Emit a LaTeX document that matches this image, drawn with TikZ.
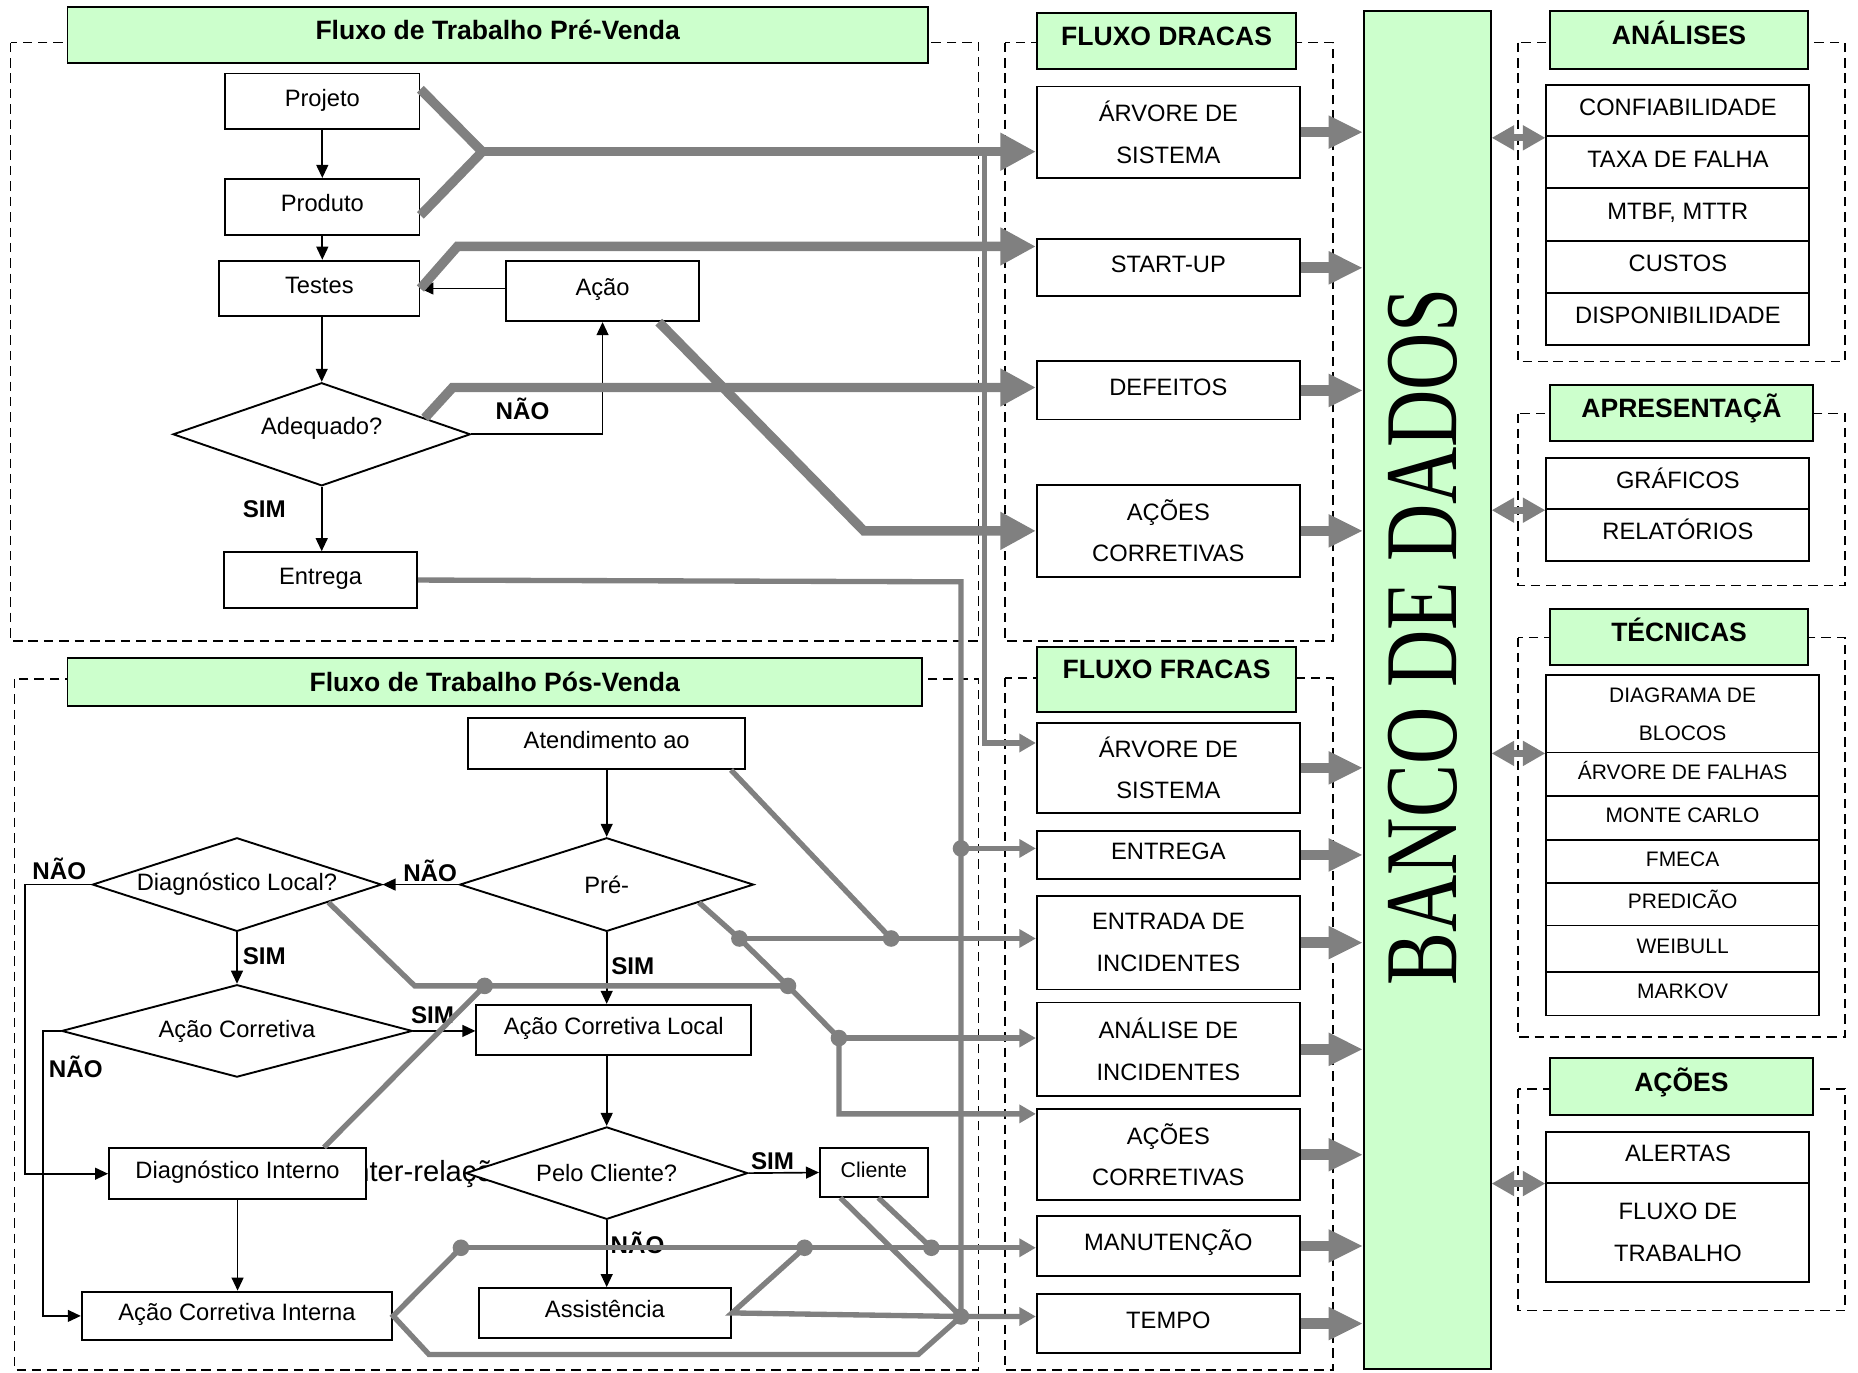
\documentclass[tikz,border=0pt]{standalone}
\usepackage{fontspec}
\usepackage{graphicx}
\setmainfont{Liberation Sans}
\newfontfamily\fontebanco{Liberation Serif}
\usetikzlibrary{arrows.meta,shapes.geometric}
\definecolor{verdeclaro}{RGB}{204,255,204}
\definecolor{cinza}{RGB}{128,128,128}
\tikzset{
  caixa/.style={draw,fill=white,line width=.8pt,inner sep=0pt,font=\fontsize{10}{12}\selectfont,text height=.8em,text depth=.4em},
  caixadupla/.style={draw,fill=white,line width=.8pt,inner sep=0pt,align=center,font=\fontsize{10}{17.5}\selectfont},
  tecnica/.style={caixa,font=\fontsize{8.85}{10}\selectfont},
  cabecalho/.style={draw,fill=verdeclaro,line width=.8pt,inner sep=0pt,font=\fontsize{11.2}{13}\selectfont\bfseries,text height=.8em,text depth=.4em},
  decisao/.style={diamond,draw,fill=white,line width=.8pt,inner sep=0pt,font=\fontsize{10}{12}\selectfont},
  rotulo/.style={inner sep=0pt,font=\fontsize{10.2}{12}\selectfont\bfseries},
  grupo/.style={line width=.6pt,dash pattern=on 4pt off 2.5pt},
  grosso/.style={cinza,line width=4pt},
  medio/.style={cinza,line width=2.25pt},
  setag/.style={grosso,-{Triangle[length=15pt,width=15pt]}},
  setam/.style={medio,-{Triangle[length=7pt,width=7.5pt]}},
  setab/.style={cinza,line width=4.5pt,-{Triangle[length=14.5pt,width=13pt]}},
  setad/.style={cinza,line width=3pt,{Triangle[length=9.5pt,width=10pt]}-{Triangle[length=9.5pt,width=10pt]}}
}
\begin{document}
\begin{tikzpicture}[>={Triangle[length=5.5pt,width=5pt]},x=.5pt,y=-.5pt]
\useasboundingbox (0,0) rectangle (1568,1158);
\draw[grupo] (9,36) rectangle (826,541);
\draw[grupo] (12,573) rectangle (826,1156);
\draw[grupo] (848,36) rectangle (1125,541);
\draw[grupo] (848,572) rectangle (1125,1156);
\draw[grupo] (1281,36) rectangle (1557,305);
\draw[grupo] (1281,349) rectangle (1557,494);
\draw[grupo] (1281,538) rectangle (1557,875);
\draw[grupo] (1281,919) rectangle (1557,1106);
\node[anchor=base west,inner sep=0pt,font=\fontsize{12.3}{14}\selectfont] (inter) at (291,997) {Inter-relações};
% pre-venda
\node[cabecalho,minimum width=363pt,minimum height=23.5pt] (prevenda) at (420,29.5) {Fluxo de Trabalho Pré-Venda};
\node[caixa,minimum width=82pt,minimum height=23.5pt] (projeto) at (272,85.5) {Projeto};
\node[caixa,minimum width=82pt,minimum height=23.5pt] (produto) at (272,174.5) {Produto};
\node[caixa,minimum width=84.5pt,minimum height=23.5pt] (testes) at (269.5,243.5) {Testes};
\node[caixa,minimum width=81.5pt,minimum height=25.5pt] (acao) at (508.5,245.5) {Ação};
\node[decisao,text height=0pt,text depth=0pt,minimum width=125.5pt,minimum height=43.5pt] (adequado) at (271.5,366.5) {\makebox[0pt]{Adequado?}};
\node[caixa,minimum width=81.5pt,minimum height=23.5pt] (entrega) at (270.5,489.5) {Entrega};
% pos-venda
\node[cabecalho,text depth=0pt,minimum width=360.5pt,minimum height=20.5pt] (posvenda) at (417.5,575.5) {Fluxo de Trabalho Pós-Venda};
\node[caixa,minimum width=117pt,minimum height=21.5pt] (atend) at (512,627.5) {Atendimento ao};
\node[decisao,minimum width=124pt,minimum height=39.5pt] (pre) at (512,746.5) {\makebox[0pt]{Pré-}};
\node[decisao,minimum width=122pt,minimum height=39.5pt] (dlocal) at (200,746.5) {\makebox[0pt]{Diagnóstico Local?}};
\node[decisao,minimum width=148pt,minimum height=39pt] (acor) at (200,870) {\makebox[0pt]{Ação Corretiva}};
\node[caixa,minimum width=116pt,minimum height=21pt] (acl) at (518,869) {Ação Corretiva Local};
\node[decisao,minimum width=119pt,minimum height=39pt] (pelo) at (512,990) {\makebox[0pt]{Pelo Cliente?}};
\node[caixa,font=\fontsize{9}{11}\selectfont,minimum width=45.5pt,minimum height=20.5pt] (cliente) at (737.5,989.5) {Cliente};
\node[caixa,minimum width=108.5pt,minimum height=21.5pt] (dint) at (200.5,990.5) {Diagnóstico Interno};
\node[caixa,minimum width=131pt,minimum height=20.5pt] (aci) at (200,1110.5) {Ação Corretiva Interna};
\node[caixa,minimum width=106.5pt,minimum height=21pt] (assist) at (510.5,1108) {Assistência};
% fluxos dracas e fracas
\node[cabecalho,minimum width=109.5pt,minimum height=23.5pt] (dracas) at (984.5,34.5) {FLUXO DRACAS};
\node[caixadupla,minimum width=111pt,minimum height=38.5pt] (dr1) at (986,111.5) {ÁRVORE DE\\SISTEMA};
\node[caixa,minimum width=111pt,minimum height=24pt] (dr2) at (986,226) {START-UP};
\node[caixa,minimum width=111pt,minimum height=24.5pt] (dr3) at (986,329.5) {DEFEITOS};
\node[caixadupla,minimum width=111pt,minimum height=39pt] (dr4) at (986,448) {AÇÕES\\CORRETIVAS};
\node[cabecalho,text depth=.85em,minimum width=109.5pt,minimum height=27.5pt] (fracas) at (984.5,573.5) {FLUXO FRACAS};
\node[caixadupla,minimum width=111pt,minimum height=38pt] (fr1) at (986,648) {ÁRVORE DE\\SISTEMA};
\node[caixa,minimum width=111pt,minimum height=20.5pt] (fr2) at (986,721.5) {ENTREGA};
\node[caixadupla,minimum width=111pt,minimum height=39.5pt] (fr3) at (986,795.5) {ENTRADA DE\\INCIDENTES};
\node[caixadupla,minimum width=111pt,minimum height=39.5pt] (fr4) at (986,885.5) {ANÁLISE DE\\INCIDENTES};
\node[caixadupla,minimum width=111pt,minimum height=38.5pt] (fr5) at (986,974.5) {AÇÕES\\CORRETIVAS};
\node[caixa,minimum width=111pt,minimum height=25.5pt] (fr6) at (986,1051.5) {MANUTENÇÃO};
\node[caixa,minimum width=111pt,minimum height=25pt] (fr7) at (986,1117) {TEMPO};
\node[cabecalho,minimum width=53.5pt,minimum height=573pt] (banco) at (1204.5,582) {};
\node[rotate=90,inner sep=0pt,font=\fontebanco\fontsize{33.5}{35}\selectfont] (bancotxt) at (1201,537.5) {\scalebox{1}[1.3]{BANCO DE DADOS}};
% grupos da direita
\node[cabecalho,minimum width=109pt,minimum height=24.5pt] (analises) at (1417,33.5) {ANÁLISES};
\foreach \n/\y/\t in {a1/93.5/CONFIABILIDADE,a2/137/TAXA DE FALHA,a3/181/{MTBF, MTTR},a4/225/CUSTOS,a5/269/DISPONIBILIDADE}
  \node[caixa,minimum width=111pt,minimum height=22pt] (\n) at (1416,\y) {\t};
\node[cabecalho,minimum width=111pt,minimum height=23.5pt] (apresentacao) at (1419,348.5) {APRESENTAÇÃ};
\foreach \n/\y/\t in {p1/408/GRÁFICOS,p2/451.5/RELATÓRIOS}
  \node[caixa,minimum width=111pt,minimum height=21.75pt] (\n) at (1416,\y) {\t};
\node[cabecalho,minimum width=109pt,minimum height=23.5pt] (tecnicas) at (1417,537.5) {TÉCNICAS};
\node[caixadupla,font=\fontsize{8.85}{16}\selectfont,minimum width=115pt,minimum height=32.5pt] (t1) at (1420,602.5) {DIAGRAMA DE\\BLOCOS};
\foreach \n/\y/\h/\t in {t2/653.5/18.5/ÁRVORE DE FALHAS,t3/690.5/18.5/MONTE CARLO,t4/727/18/FMECA,t5/763/18/PREDICÃO,t6/800.5/19.5/WEIBULL,t7/838.5/18.5/MARKOV}
  \node[tecnica,minimum width=115pt,minimum height=\h*1pt] (\n) at (1420,\y) {\t};
\node[cabecalho,minimum width=111pt,minimum height=24pt] (acoes) at (1419,917) {AÇÕES};
\node[caixa,minimum width=111pt,minimum height=21.5pt] (c1) at (1416,976.5) {ALERTAS};
\node[caixadupla,minimum width=111pt,minimum height=42pt] (c2) at (1416,1040) {FLUXO DE\\TRABALHO};
% setas pretas
\draw[->,line width=.7pt] (projeto) -- (produto);
\draw[->,line width=.7pt] (produto.south) -- (produto.south |- testes.north);
\draw[->,line width=.7pt] (adequado.north |- testes.south) -- (adequado);
\draw[->,line width=.7pt] (acao.west |- testes.east) -- (testes.east);
\draw[->,line width=.7pt] (adequado.east) -| (acao.south);
\draw[->,line width=.7pt] (adequado.south) -- (adequado.south |- entrega.north);
\draw[->,line width=.7pt] (atend) -- (pre);
\draw[->,line width=.7pt] (pre.west) -- (dlocal.east);
\draw[->,line width=.7pt] (dlocal.south) -- (acor.north);
\draw[->,line width=.7pt] (acor.east) -- (acor.east -| acl.west);
\draw[->,line width=.7pt] (pre.south) -- (pre.south |- acl.north);
\draw[->,line width=.7pt] (pre.south |- acl.south) -- (pelo.north);
\draw[->,line width=.7pt] (pelo.east) -- (cliente.west);
\draw[->,line width=.7pt] (pelo.south) -- (pelo.south |- assist.north);
\draw[->,line width=.7pt] (dlocal.west) -- ++(-56,0) |- (dint.west);
\draw[->,line width=.7pt] (acor.west) -- ++(-15,0) |- (aci.west);
\draw[->,line width=.7pt] (dint.south) -- (dint.south |- aci.north);
\node[rotulo] (nao1) at (441,345) {NÃO};
\node[rotulo] (sim1) at (223,430) {SIM};
\node[rotulo] (nao2) at (363,735) {NÃO};
\node[rotulo] (nao3) at (50,733) {NÃO};
\node[rotulo] (sim2) at (223,807) {SIM};
\node[rotulo] (sim3) at (365,857) {SIM};
\node[rotulo] (nao4) at (64,900) {NÃO};
\node[rotulo] (sim4) at (534,815) {SIM};
\node[rotulo] (sim5) at (652,980) {SIM};
\node[rotulo] (nao5) at (538,1049) {NÃO};
% ligacoes cinzas
\coordinate (j1) at (407,128);
\coordinate (j2) at (386,208);
\coordinate (j3) at (382,327);
\coordinate (j4) at (729,448);
\coordinate (j5) at (811,491);
\coordinate (j6) at (811,716);
\coordinate (j7) at (811,1111);
\coordinate (j8) at (831,128);
\coordinate (j9) at (831,627);
\coordinate (k1) at (752,792);
\coordinate (k2) at (624,792);
\coordinate (k3) at (665,832);
\coordinate (k4) at (708,876);
\coordinate (k5) at (708,940);
\coordinate (k6) at (350,832);
\coordinate (k7) at (409,832);
\coordinate (k8) at (389,1053);
\coordinate (k9) at (362,1143);
\coordinate (k10) at (775,1143);
\coordinate (k11) at (679,1053);
\coordinate (k12) at (786,1053);
\draw[grosso] (projeto.7) -- (j1) -- (produto.-5);
\draw[setag] (j1) -- (dr1.west |- j1);
\draw[setag] (testes.east) -- (j2) -- (dr2.west |- j2);
\draw[setag] (adequado.9) -- (j3) -- (dr3.west |- j3);
\draw[setag] (acao.-29) -- (j4) -- (dr4.west |- j4);
\draw[setam] (j8) -- (j9) -- (fr1.west |- j9);
\draw[setam] (entrega.east) -- (j5) -- (j7) -- (fr7.west |- j7);
\draw[setam] (j6) -- (fr2.west |- j6);
\draw[medio] (atend.-12) -- (k1);
\draw[setam] (k2) -- (fr3.west |- k2);
\draw[setam] (pre.-11) -- (k2) -- (k3) -- (k4) -- (k5) -- (fr5.west |- k5);
\draw[setam] (k4) -- (fr4.west |- k4);
\draw[medio] (dlocal.-11) -- (k6) -- (k3);
\draw[medio] (dint.17) -- (k7);
\draw[medio] (k8) -- (aci.east) -- (k9) -- (k10) -- (j7);
\draw[setam] (k8) -- (fr6.west |- k8);
\draw[medio] (k11) -- (assist.east) -- (j7);
\draw[medio] (cliente.217) -- (j7);
\draw[medio] (cliente.-80) -- (k12);
\foreach \p in {j6,j7,k1,k2,k3,k4,k7,k8,k11,k12} \fill[cinza] (\p) circle (3.5pt);
\foreach \n in {dr1,dr2,dr3,dr4,fr1,fr2,fr3,fr4,fr5,fr6,fr7}
  \draw[setab] (\n.east) -- (\n.east -| banco.west);
\foreach \n in {a1,p1,t1,c1}
  \draw[setad] (banco.east |- \n.south west) -- (\n.south west);
\end{tikzpicture}
\end{document}
